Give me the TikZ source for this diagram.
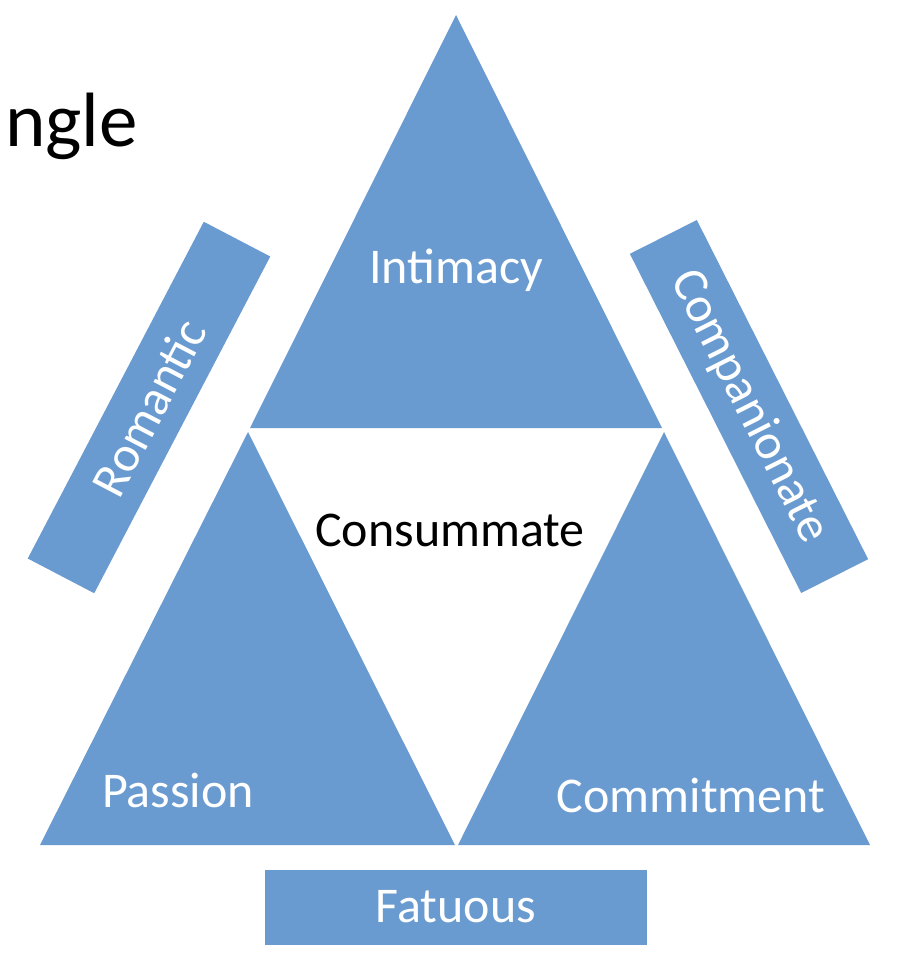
\documentclass[tikz,border=0pt]{standalone}
\usepackage{fontspec}
\setmainfont{Carlito}
\usepackage{tikz}
\usepackage{xcolor}
\definecolor{triblue}{RGB}{106,155,208}
\usetikzlibrary{positioning}

\begin{document}
\begin{tikzpicture}[x=1pt,y=-1pt,
part/.style={fill=triblue, draw=none},
band/.style={fill=triblue, draw=none, inner sep=0pt, minimum width=380pt, minimum height=75pt, text=white, font=\fontsize{50}{60}\selectfont},
label/.style={text=white, inner sep=0pt, font=\fontsize{50}{60}\selectfont},
inner/.style={text=black, inner sep=0pt, font=\fontsize{50}{60}\selectfont}
]
\useasboundingbox (0,0) rectangle (906,964);
% the three corners of the triangle
\fill[part] (456,15) -- (250,428) -- (662,428) -- cycle;
\fill[part] (248,432) -- (40,845) -- (455,845) -- cycle;
\fill[part] (664,432) -- (458,845) -- (870,845) -- cycle;

\node[label] (intimacy) at (456,270) {Intimacy};
\node[label] (passion) at (178,790) {Passion};
\node[label] (commitment) at (691,795) {Commitment};
\node[inner] (consummate) at (450,530) {Consummate};

% combinations of two
\node[band, rotate=62.4] (romantic) at (149,407.5) {Romantic};
\node[band, rotate=-63.2] (companionate) at (749,406.5) {Companionate};
\node[band, minimum width=382pt] (fatuous) at (456,907) {Fatuous};

\node[anchor=west, inner sep=0pt, font=\fontsize{77}{92}\selectfont] (title) at (5,126) {ngle};
\end{tikzpicture}
\end{document}
